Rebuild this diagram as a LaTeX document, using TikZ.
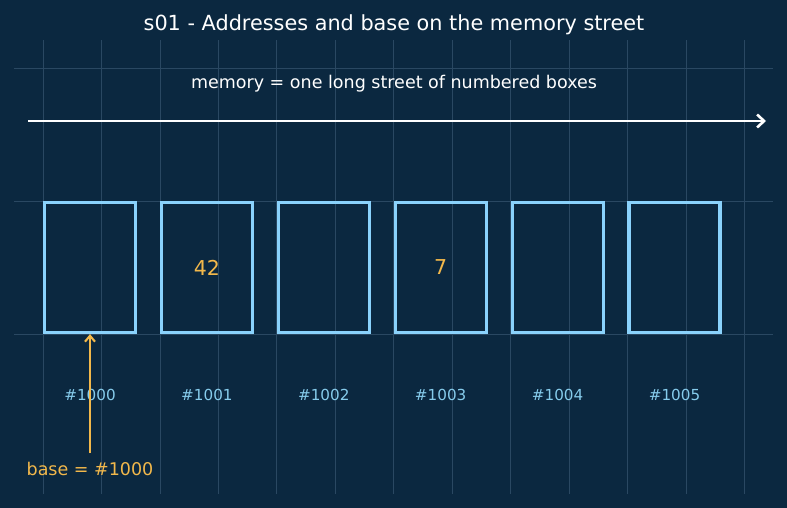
\documentclass[tikz,border=0pt]{standalone}
\usepackage{fontspec}
\setmainfont{DejaVu Sans}
\usetikzlibrary{arrows.meta}
\definecolor{bg}{HTML}{0B2840}
\definecolor{gridc}{HTML}{2A4862}
\definecolor{boxc}{HTML}{8AD2FC}
\definecolor{labc}{HTML}{86CCEC}
\definecolor{orng}{HTML}{F2B84B}
\tikzset{
  cell/.style={draw=boxc, line width=3.1pt, minimum width=91pt, minimum height=130pt, inner sep=0pt, font=\fontsize{20.5}{24}\selectfont, text=orng},
  addr/.style={text=labc, font=\fontsize{15.2}{18}\selectfont, inner sep=0pt},
  gridline/.style={draw=gridc, line width=0.7pt},
}
\begin{document}
\begin{tikzpicture}[x=1pt,y=-1pt]
\fill[bg] (0,0) rectangle (787,508);
\useasboundingbox (0,0) rectangle (787,508);
% grid
\foreach \k in {0,...,12}{
  \draw[gridline] ({43+58.45*\k},40) -- ({43+58.45*\k},494);
}
\foreach \yy in {68,201,334}{
  \draw[gridline] (14,\yy) -- (773,\yy);
}
\node[text=white, font=\fontsize{20.8}{24}\selectfont, inner sep=0pt] (title) at (394,24.5) {s01 - Addresses and base on the memory street};
\node[text=white, font=\fontsize{17.5}{21}\selectfont, inner sep=0pt] (street) at (394,83.5) {memory = one long street of numbered boxes};
\coordinate (a0) at (28,121);
\coordinate (a1) at (766,121);
\draw[white, line width=2.6pt, -{Straight Barb[length=7pt,width=13pt,line width=2.6pt]}] (a0) -- (a1);
% cells
\foreach \i/\v in {0/,1/42,2/,3/7,4/,5/}{
  \node[cell] (b\i) at ({90+116.9*\i},267.5) {\v};
  \node[addr] (l\i) at ({90+116.9*\i},394.5) {\#100\i};
}
\node[text=orng, font=\fontsize{17.5}{21}\selectfont, inner sep=0pt] (base) at (90,468.5) {base = \#1000};
\coordinate (bs) at (90,453);
\draw[orng, line width=2.1pt, -{Straight Barb[length=6pt,width=10pt,line width=2.1pt]}] (bs) -- (b0.south);
\end{tikzpicture}
\end{document}
